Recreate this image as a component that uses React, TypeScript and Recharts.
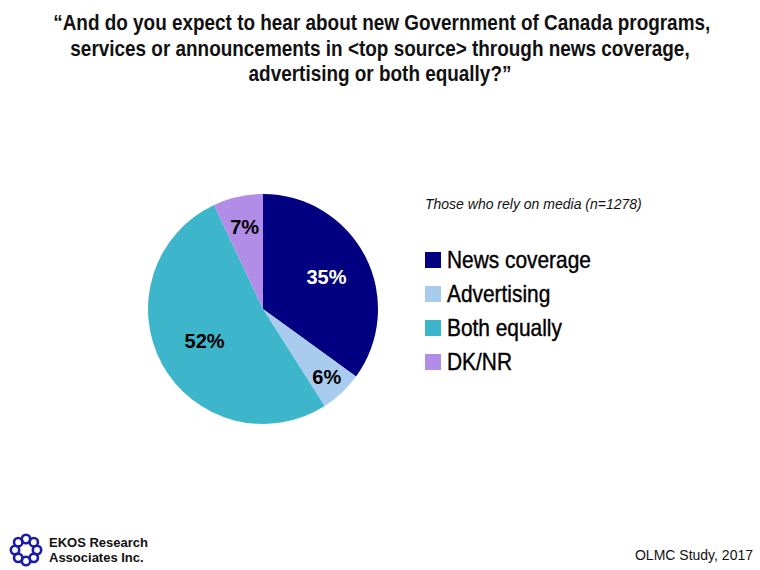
import { PieChart, Pie, Cell, Legend } from "recharts";

// Answer shares (%), clockwise from 12 o'clock
const categories = ["News coverage", "Advertising", "Both equally", "DK/NR"];
const shares = [35, 6, 52, 7];
const sliceColors = ["#000080", "#A9CBEE", "#3DB6CB", "#B18DE8"];

const titleLines = [
  "\u201CAnd do you expect to hear about new Government of Canada programs,",
  "services or announcements in <top source> through news coverage,",
  "advertising or both equally?\u201D",
];
const subtitle = "Those who rely on media (n=1278)";
const footerLeft = ["EKOS Research", "Associates Inc."];
const footerRight = "OLMC Study, 2017";

const pieData = categories.map((name, i) => ({ name, value: shares[i] }));

// how far out each label sits (fraction of radius) and its text colour
const labelRadius = [0.62, 0.81, 0.58, 0.73];
const labelColor = ["#ffffff", "#000000", "#000000", "#000000"];

const sans = "'Liberation Sans', Arial, Helvetica, sans-serif";

const RADIAN = Math.PI / 180;

const renderLabel = (props: any) => {
  const { cx, cy, midAngle, outerRadius, index, value } = props;
  const r = outerRadius * labelRadius[index];
  const x = cx + r * Math.cos(-midAngle * RADIAN);
  const y = cy + r * Math.sin(-midAngle * RADIAN);
  return (
    <text
      x={x}
      y={y}
      fill={labelColor[index]}
      textAnchor="middle"
      dominantBaseline="central"
      style={{ fontFamily: sans, fontWeight: "bold", fontSize: 20 }}
    >
      {`${value}%`}
    </text>
  );
};

// no narrow font installed, so squeeze the regular one
const narrowStyle = {
  display: "inline-block",
  transform: "scaleX(0.87)",
  transformOrigin: "left center",
  whiteSpace: "nowrap" as const,
};

const LegendBox = () => (
  <div style={{ fontFamily: sans }}>
    <div style={{ fontStyle: "italic", fontSize: 14, color: "#111", marginBottom: 31 }}>{subtitle}</div>
    {categories.map((c, i) => (
      <div key={c} style={{ display: "flex", alignItems: "center", height: 34 }}>
        <span style={{ width: 16, height: 16, background: sliceColors[i], marginRight: 6, flex: "none" }} />
        <span style={{ ...narrowStyle, fontSize: 24, color: "#000", WebkitTextStroke: "0.4px #000" }}>{c}</span>
      </div>
    ))}
  </div>
);

const Logo = () => {
  const dots = Array.from({ length: 8 }, (_, i) => i);
  return (
    <svg width={36} height={36} style={{ position: "absolute", left: 8, top: 532 }}>
      {dots.map((i) => {
        const a = i * 45 * RADIAN;
        return (
          <circle
            key={i}
            cx={18 + 11 * Math.cos(a)}
            cy={18 + 11 * Math.sin(a)}
            r={4.2}
            fill="none"
            stroke="#1c1ca8"
            strokeWidth={2.6}
          />
        );
      })}
    </svg>
  );
};

const App = () => {
  return (
    <div style={{ position: "absolute", left: 0, top: 0, width: 760, height: 570, background: "#fff" }}>
      <div
        style={{
          position: "absolute",
          left: 0,
          top: 10,
          width: 760,
          textAlign: "center",
          fontFamily: sans,
          fontWeight: "bold",
          fontSize: 22,
          lineHeight: "25.5px",
          color: "#111",
        }}
      >
        {titleLines.map((t) => (
          <div key={t} style={{ transform: "scaleX(0.86)", transformOrigin: "center", whiteSpace: "nowrap" }}>
            {t}
          </div>
        ))}
      </div>

      <PieChart
        width={760}
        height={570}
        margin={{ top: 0, right: 0, bottom: 0, left: 0 }}
        style={{ position: "absolute", left: 0, top: 0 }}
      >
        <Pie
          data={pieData}
          dataKey="value"
          nameKey="name"
          cx={263}
          cy={309}
          outerRadius={115}
          startAngle={90}
          endAngle={-270}
          stroke="none"
          label={renderLabel}
          labelLine={false}
          isAnimationActive={false}
        >
          {pieData.map((entry, index) => (
            <Cell key={`cell-${index}`} fill={sliceColors[index]} />
          ))}
        </Pie>
        <Legend
          content={() => <LegendBox />}
          wrapperStyle={{ position: "absolute", left: 425, top: 196, width: 300 }}
        />
      </PieChart>

      <Logo />
      <div
        style={{
          position: "absolute",
          left: 49,
          top: 535,
          fontFamily: sans,
          fontWeight: "bold",
          fontSize: 13,
          lineHeight: "15px",
          color: "#111",
        }}
      >
        {footerLeft.map((t) => (
          <div key={t}>{t}</div>
        ))}
      </div>
      <div style={{ position: "absolute", right: 7, top: 547, fontFamily: sans, fontSize: 14, color: "#111" }}>
        {footerRight}
      </div>
    </div>
  );
};

export default App;
